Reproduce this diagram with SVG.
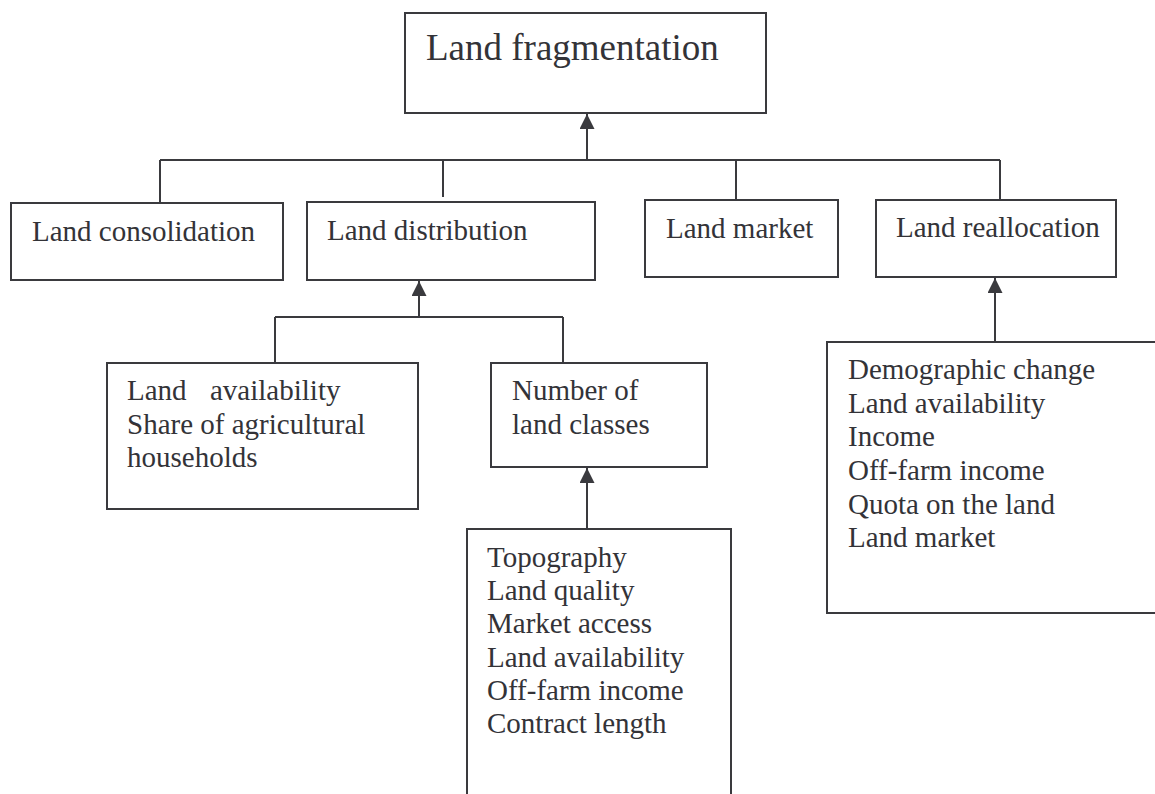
<svg xmlns="http://www.w3.org/2000/svg" width="1155" height="794" viewBox="0 0 1155 794" font-family="'Liberation Serif', 'Times New Roman', Times, serif">
<defs>
<style>
.box{fill:#fff;stroke:#3a3a3e;stroke-width:2}
.ln{fill:none;stroke:#3a3a3e;stroke-width:2}
.t{font-family:'Liberation Serif','Times New Roman',Times,serif;font-size:29px;fill:#333338}
.big{font-size:37px}
</style>
<marker id="ah" viewBox="0 0 15 16" refX="15" refY="7.5" markerWidth="15" markerHeight="16" markerUnits="userSpaceOnUse" orient="auto">
<path d="M0,0 L15,7.5 L0,15 Z" fill="#3a3a3e"/>
</marker>
</defs>
<rect width="1155" height="794" fill="#fff"/>
<g id="connectors">
<line class="ln" x1="160" y1="160" x2="1000" y2="160"/>
<line class="ln" x1="587" y1="160" x2="587" y2="114" marker-end="url(#ah)"/>
<line class="ln" x1="160" y1="160" x2="160" y2="203"/>
<line class="ln" x1="443" y1="160" x2="443" y2="197"/>
<line class="ln" x1="736" y1="160" x2="736" y2="200"/>
<line class="ln" x1="1000" y1="160" x2="1000" y2="200"/>
<line class="ln" x1="275" y1="317" x2="563" y2="317"/>
<line class="ln" x1="275" y1="317" x2="275" y2="363"/>
<line class="ln" x1="563" y1="317" x2="563" y2="363"/>
<line class="ln" x1="419" y1="317" x2="419" y2="281" marker-end="url(#ah)"/>
<line class="ln" x1="587" y1="529" x2="587" y2="468" marker-end="url(#ah)"/>
<line class="ln" x1="995" y1="342" x2="995" y2="278" marker-end="url(#ah)"/>
</g>
<g id="land-fragmentation">
<rect class="box" x="405" y="13" width="361" height="100"/>
<text class="t big" x="426" y="60">Land fragmentation</text>
</g>
<g id="land-consolidation">
<rect class="box" x="11" y="203" width="272" height="77"/>
<text class="t" x="32" y="241">Land consolidation</text>
</g>
<g id="land-distribution">
<rect class="box" x="307" y="202" width="288" height="78"/>
<text class="t" x="327" y="240">Land distribution</text>
</g>
<g id="land-market">
<rect class="box" x="645" y="200" width="193" height="77"/>
<text class="t" x="666" y="238">Land market</text>
</g>
<g id="land-reallocation">
<rect class="box" x="876" y="200" width="240" height="77"/>
<text class="t" x="896" y="237">Land reallocation</text>
</g>
<g id="land-availability">
<rect class="box" x="107" y="363" width="311" height="146"/>
<text class="t" x="127" y="400">Land<tspan x="210">availability</tspan></text>
<text class="t" x="127" y="434">Share of agricultural</text>
<text class="t" x="127" y="467">households</text>
</g>
<g id="number-of-land-classes">
<rect class="box" x="491" y="363" width="216" height="104"/>
<text class="t" x="512" y="400">Number of</text>
<text class="t" x="512" y="434">land classes</text>
</g>
<g id="land-classes-factors">
<rect class="box" x="467" y="529" width="264" height="290"/>
<text class="t" x="487" y="567">Topography</text>
<text class="t" x="487" y="600">Land quality</text>
<text class="t" x="487" y="633">Market access</text>
<text class="t" x="487" y="667">Land availability</text>
<text class="t" x="487" y="700">Off-farm income</text>
<text class="t" x="487" y="733">Contract length</text>
</g>
<g id="reallocation-factors">
<rect class="box" x="827" y="342" width="350" height="271"/>
<text class="t" x="848" y="379">Demographic change</text>
<text class="t" x="848" y="413">Land availability</text>
<text class="t" x="848" y="446">Income</text>
<text class="t" x="848" y="480">Off-farm income</text>
<text class="t" x="848" y="514">Quota on the land</text>
<text class="t" x="848" y="547">Land market</text>
</g>
</svg>
